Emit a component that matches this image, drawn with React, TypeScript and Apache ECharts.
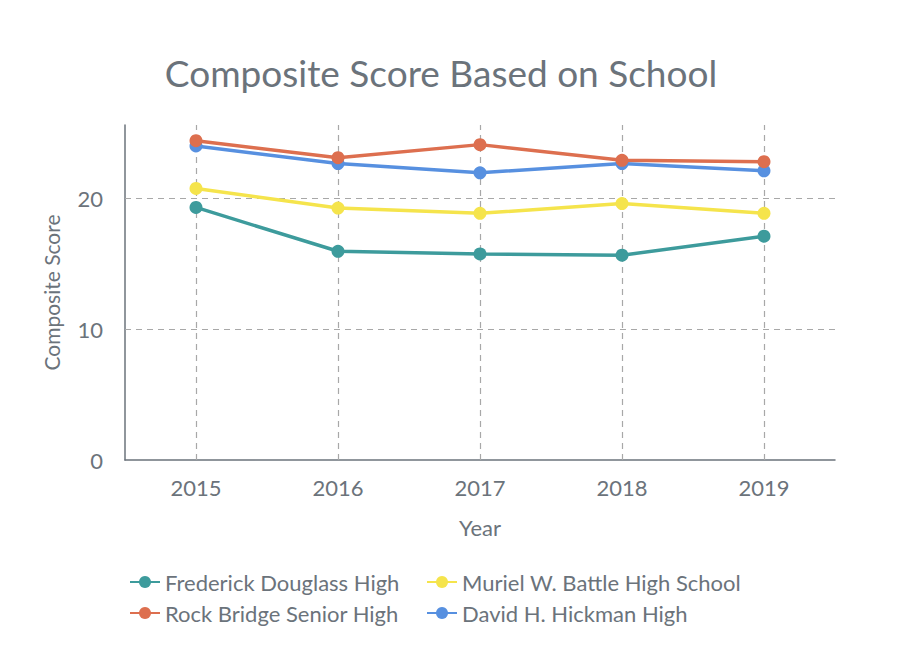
import React, { useEffect, useRef } from "react";
import * as echarts from "echarts";

const years = ["2015", "2016", "2017", "2018", "2019"];
const frederick = [19.3, 15.95, 15.75, 15.65, 17.1];
const muriel = [20.75, 19.25, 18.85, 19.6, 18.85];
const rockBridge = [24.4, 23.1, 24.1, 22.9, 22.8];
const hickman = [24.0, 22.65, 21.95, 22.65, 22.1];
const yGridValues = [10, 20];

const names = [
  "Frederick Douglass High",
  "Muriel W. Battle High School",
  "Rock Bridge Senior High",
  "David H. Hickman High",
];
const colors = ["#3d9b9c", "#f5e44c", "#dd6f4f", "#5790e0"];
const FONT = "Lato";
const GRAY = "#6b737b";

export default function App() {
  const ref = useRef<HTMLDivElement>(null);
  useEffect(() => {
    if (!ref.current) return;
    const chart = echarts.init(ref.current, null, { renderer: "svg" });
    const dataSets = [frederick, muriel, rockBridge, hickman];
    const series: any[] = dataSets.map((d, i) => ({
      name: names[i],
      type: "line",
      data: d,
      symbol: "circle",
      symbolSize: 13,
      itemStyle: { color: colors[i] },
      lineStyle: { color: colors[i], width: 3.5 },
      z: 10 - i,
    }));
    series[0].markLine = {
      silent: true,
      symbol: "none",
      label: { show: false },
      lineStyle: { color: "#a8a8a8", type: [6, 5], width: 1.2 },
      data: [
        ...years.map((y) => ({ xAxis: y })),
        ...yGridValues.map((v) => ({ yAxis: v })),
      ],
      z: 1,
    };
    const legendBase = {
      orient: "vertical",
      top: 566,
      itemWidth: 30,
      itemHeight: 15,
      itemGap: 9,
      textStyle: { fontFamily: FONT, fontSize: 22, color: GRAY },
    };
    chart.setOption({
      animation: false,
      textStyle: { fontFamily: FONT },
      title: {
        text: "Composite Score Based on School",
        left: 436,
        textAlign: "center",
        top: 49,
        textStyle: { fontFamily: FONT, fontSize: 37, fontWeight: "normal", color: GRAY },
      },
      grid: { left: 125, right: 65, top: 125, bottom: 207 },
      xAxis: {
        type: "category",
        data: years,
        boundaryGap: true,
        name: "Year",
        nameLocation: "middle",
        nameGap: 56,
        nameTextStyle: { fontFamily: FONT, fontSize: 22, color: GRAY },
        axisLine: { lineStyle: { color: GRAY, width: 1.5 } },
        axisTick: { show: false },
        axisLabel: { fontFamily: FONT, fontSize: 22, color: GRAY, margin: 16 },
        splitLine: { show: false },
      },
      yAxis: {
        type: "value",
        min: 0,
        max: 25.6,
        interval: 10,
        name: "Composite Score",
        nameLocation: "middle",
        nameGap: 63,
        nameTextStyle: { fontFamily: FONT, fontSize: 21, color: GRAY },
        axisLine: { show: true, lineStyle: { color: GRAY, width: 1.5 } },
        axisTick: { show: false },
        axisLabel: { fontFamily: FONT, fontSize: 22, color: GRAY, margin: 22, showMaxLabel: false },
        splitLine: { show: false },
      },
      legend: [
        { ...legendBase, data: [names[0], names[2]], left: 124 },
        { ...legendBase, data: [names[1], names[3]], left: 421 },
      ],
      series,
    });
    return () => chart.dispose();
  }, []);
  return (
    <div
      ref={ref}
      style={{ position: "fixed", left: 0, top: 0, width: 900, height: 667, background: "#fff" }}
    />
  );
}
